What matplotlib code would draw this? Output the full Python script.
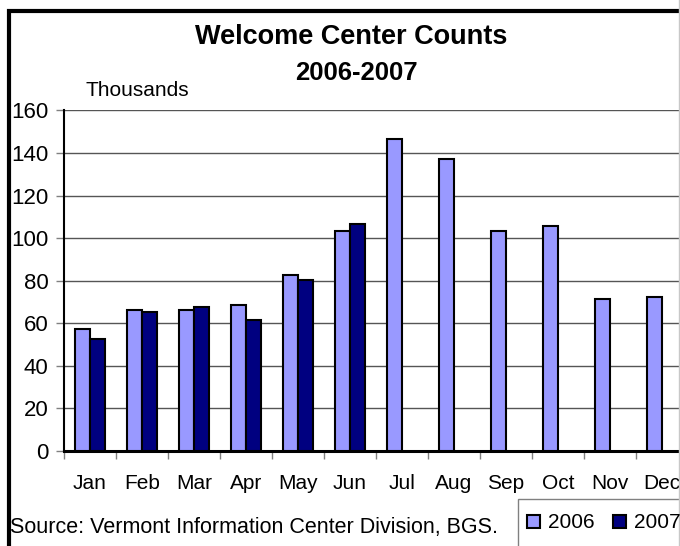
import matplotlib
matplotlib.use("Agg")
import matplotlib.pyplot as plt
import numpy as np
from matplotlib.patches import Rectangle
from matplotlib.lines import Line2D

plt.rcParams["font.family"] = ["Liberation Sans", "DejaVu Sans"]

months = ["Jan", "Feb", "Mar", "Apr", "May", "Jun",
          "Jul", "Aug", "Sep", "Oct", "Nov", "Dec"]
counts_2006 = [57.1, 66.1, 66.1, 68.7, 82.4, 103.1,
               146.5, 137.4, 103.1, 105.9, 71.5, 72.3]
counts_2007 = [52.6, 65.3, 67.8, 61.5, 80.5, 106.8]
series_labels = ["2006", "2007"]
yticks = list(range(0, 161, 20))

W, H = 680, 546
fig = plt.figure(figsize=(W / 100, H / 100), dpi=100)

# plot area runs past the right edge of the picture (cropped original)
ax = fig.add_axes([64 / W, 1 - 450.7 / H, 624 / W, 340.2 / H])

bw = 1 / 3.5
x06 = np.arange(len(counts_2006))
x07 = np.arange(len(counts_2007))
b06 = ax.bar(x06 - bw / 2, counts_2006, bw, color="#9999FF",
             edgecolor="black", linewidth=1.5, zorder=3)
b07 = ax.bar(x07 + bw / 2, counts_2007, bw, color="#000080",
             edgecolor="black", linewidth=1.5, zorder=3)

ax.set_xlim(-0.5, 11.5)
ax.set_ylim(0, 160)
ax.set_yticks(yticks)
ax.yaxis.grid(True, color="#555555", lw=1, zorder=0)
ax.set_axisbelow(True)

ax.set_xticks(x06)
ax.set_xticklabels(months, fontsize=15)
ax.set_xticks(np.arange(-0.5, 12, 1), minor=True)
ax.tick_params(axis="x", which="major", length=0, pad=17)
ax.tick_params(axis="x", which="minor", length=6, color="#808080", width=1)
ax.tick_params(axis="y", length=6, color="#808080", width=1, pad=5,
               labelsize=16)

for s in ("top", "right"):
    ax.spines[s].set_visible(False)
ax.spines["left"].set_linewidth(1.5)
ax.spines["bottom"].set_linewidth(2.2)

# outer chart border (only left and top show in the crop)
fig.patches.append(Rectangle((8.5 / W, -0.2), 1.5, 1.2 - 11 / H,
                             transform=fig.transFigure, fill=False,
                             edgecolor="black", linewidth=3))
fig.lines.append(Line2D([679 / W, 679 / W], [0, 1], transform=fig.transFigure,
                        color="#c8c8c8", lw=1))

fig.text(351 / W, 1 - 37 / H, "Welcome Center Counts", ha="center",
         va="center", fontsize=19.5, fontweight="bold")
fig.text(356 / W, 1 - 73 / H, "2006-2007", ha="center", va="center",
         fontsize=18.5, fontweight="bold")
fig.text(85 / W, 1 - 91 / H, "Thousands", ha="left", va="center", fontsize=15)
fig.text(10 / W, 1 - 527 / H, "Source: Vermont Information Center Division, BGS.",
         ha="left", va="center", fontsize=15.5)

# legend box, cut off by the picture edge
fig.patches.append(Rectangle((518 / W, -0.2), 0.5, 0.2 + 1 - 499 / H,
                             transform=fig.transFigure, fill=False,
                             edgecolor="#808080", linewidth=1))
fig.legend([b06, b07], series_labels, loc="center left",
           bbox_to_anchor=(527 / W, 1 - 523 / H), ncol=2, frameon=False,
           fontsize=15, handlelength=0.6, handleheight=0.6,
           handletextpad=0.4, columnspacing=0.9, borderpad=0,
           borderaxespad=0)

fig.savefig("out.png", dpi=100)
